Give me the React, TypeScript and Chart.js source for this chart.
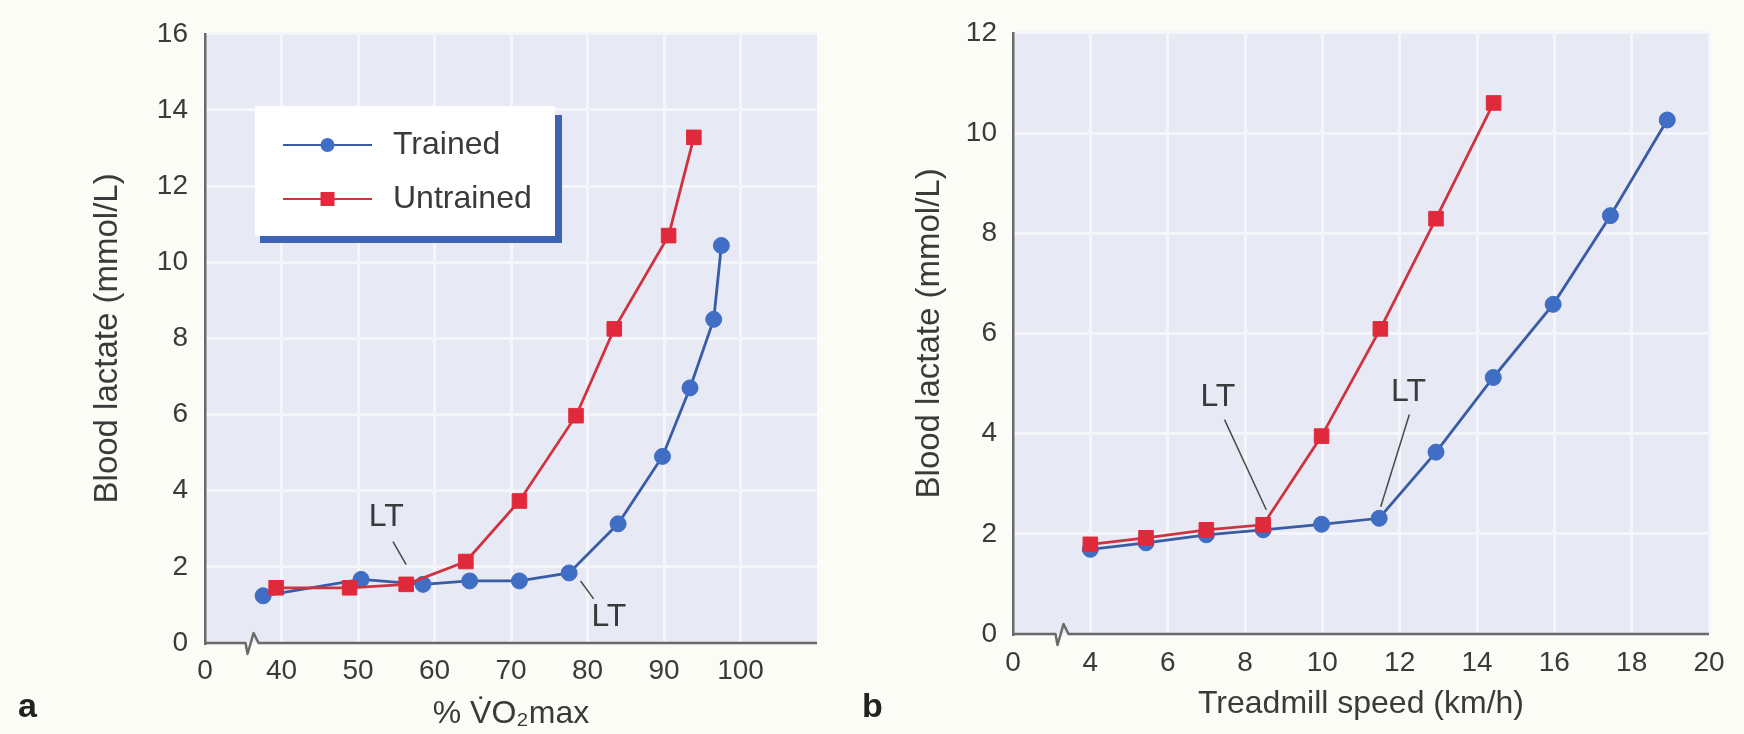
import React, { useEffect, useRef } from 'react';
import { Chart, registerables } from 'chart.js';

Chart.register(...registerables);

// ---------- Data: panel a (% VO2max) ----------
const aTrainedX = [37.6, 50.4, 58.5, 64.6, 71.1, 77.6, 84.0, 89.8, 93.4, 96.5, 97.5];
const aTrainedY = [1.24, 1.67, 1.54, 1.63, 1.63, 1.84, 3.13, 4.9, 6.7, 8.5, 10.44];
const aUntrainedX = [39.3, 48.9, 56.3, 64.1, 71.1, 78.5, 83.5, 90.6, 93.9];
const aUntrainedY = [1.45, 1.45, 1.54, 2.14, 3.73, 5.97, 8.25, 10.7, 13.28];
const aXTickValues = [30, 40, 50, 60, 70, 80, 90, 100, 110];
const aXTickLabels = ['0', '40', '50', '60', '70', '80', '90', '100', ''];
const aYTickValues = [0, 2, 4, 6, 8, 10, 12, 14, 16];

// ---------- Data: panel b (treadmill speed) ----------
const bTrainedX = [4.0, 5.44, 7.0, 8.47, 9.98, 11.47, 12.94, 14.42, 15.97, 17.45, 18.92];
const bTrainedY = [1.69, 1.82, 1.98, 2.08, 2.19, 2.31, 3.63, 5.12, 6.58, 8.35, 10.26];
const bUntrainedX = [4.0, 5.44, 7.0, 8.47, 9.98, 11.5, 12.94, 14.43];
const bUntrainedY = [1.79, 1.92, 2.08, 2.18, 3.95, 6.09, 8.29, 10.6];
const bXTickValues = [2, 4, 6, 8, 10, 12, 14, 16, 18, 20];
const bXTickLabels = ['0', '4', '6', '8', '10', '12', '14', '16', '18', '20'];
const bYTickValues = [0, 2, 4, 6, 8, 10, 12];

const seriesLabels = ['Trained', 'Untrained'];

// LT annotations (data coordinates)
const aAnnotations = [
  { text: 'LT', x: 53.7, y: 3.3, from: [54.57, 2.66], to: [56.3, 2.06] },
  { text: 'LT', x: 82.8, y: 0.67, from: [79.1, 1.63], to: [80.8, 1.16] },
];
const bAnnotations = [
  { text: 'LT', x: 7.3, y: 4.73, from: [7.47, 4.28], to: [8.55, 2.48] },
  { text: 'LT', x: 12.23, y: 4.83, from: [12.25, 4.38], to: [11.51, 2.54] },
];

// ---------- Styles ----------
const FONT = "'Liberation Sans', Arial, Helvetica, sans-serif";
const TEXT = '#3a3a3a';
const PAGE_BG = '#fcfcf7';
const PLOT_BG = '#e7e9f5';
const GRID = '#f5f6fc';
const AXIS = '#6a6a6a';
const LEADER = '#4a4a4a';
const BLUE_LINE = '#3a5ca4';
const BLUE_PT = '#3f6ec4';
const RED_LINE = '#cf3340';
const RED_PT = '#e02a3c';
const LEGEND_SHADOW = '#3d63b2';

function decor(cfg: any) {
  return {
    id: 'decor',
    beforeDraw(chart: any) {
      const { ctx, chartArea: a } = chart;
      ctx.save();
      ctx.fillStyle = PLOT_BG;
      ctx.fillRect(a.left, a.top, a.right - a.left, a.bottom - a.top);
      ctx.restore();
    },
    beforeDatasetsDraw(chart: any) {
      const { ctx, chartArea: a, scales } = chart;
      const bx = scales.x.getPixelForValue(cfg.breakValue);
      const y0 = a.bottom;
      ctx.save();
      ctx.strokeStyle = AXIS;
      ctx.lineWidth = 2.5;
      ctx.lineJoin = 'round';
      ctx.beginPath();
      ctx.moveTo(a.left - 1, y0);
      ctx.lineTo(bx, y0);
      ctx.lineTo(bx + 2, y0 + 11);
      ctx.lineTo(bx + 8, y0 - 10);
      ctx.lineTo(bx + 13, y0);
      ctx.lineTo(a.right, y0);
      ctx.stroke();
      ctx.restore();
    },
    afterDatasetsDraw(chart: any) {
      const { ctx, scales } = chart;
      const sx = (v: number) => scales.x.getPixelForValue(v);
      const sy = (v: number) => scales.y.getPixelForValue(v);
      ctx.save();
      for (const an of cfg.annotations) {
        ctx.strokeStyle = LEADER;
        ctx.lineWidth = 1.5;
        ctx.beginPath();
        ctx.moveTo(sx(an.from[0]), sy(an.from[1]));
        ctx.lineTo(sx(an.to[0]), sy(an.to[1]));
        ctx.stroke();
        ctx.fillStyle = TEXT;
        ctx.font = `32px ${FONT}`;
        ctx.textAlign = 'center';
        ctx.textBaseline = 'middle';
        ctx.fillText(an.text, sx(an.x), sy(an.y));
      }
      if (cfg.legend) {
        const L = cfg.legend;
        ctx.fillStyle = LEGEND_SHADOW;
        ctx.fillRect(L.right, L.top + 9, 7, L.bottom - L.top - 2);
        ctx.fillRect(L.left + 5, L.bottom, L.right - L.left + 2, 7);
        ctx.fillStyle = '#ffffff';
        ctx.fillRect(L.left, L.top, L.right - L.left, L.bottom - L.top);
        chart.data.datasets.forEach((ds: any, i: number) => {
          const y = L.rowY[i];
          ctx.strokeStyle = ds.borderColor;
          ctx.lineWidth = 2;
          ctx.beginPath();
          ctx.moveTo(L.lineX1, y);
          ctx.lineTo(L.lineX2, y);
          ctx.stroke();
          ctx.fillStyle = ds.pointBackgroundColor;
          const mx = (L.lineX1 + L.lineX2) / 2;
          if (ds.pointStyle === 'rect') {
            ctx.fillRect(mx - 7, y - 7, 14, 14);
          } else {
            ctx.beginPath();
            ctx.arc(mx, y, 7, 0, Math.PI * 2);
            ctx.fill();
          }
          ctx.fillStyle = TEXT;
          ctx.font = `32px ${FONT}`;
          ctx.textAlign = 'left';
          ctx.textBaseline = 'middle';
          ctx.fillText(ds.label, L.textX, y);
        });
      }
      ctx.fillStyle = '#222222';
      ctx.font = `bold 34px ${FONT}`;
      ctx.textAlign = 'left';
      ctx.textBaseline = 'alphabetic';
      ctx.fillText(cfg.panel.text, cfg.panel.x, cfg.panel.y);
      ctx.restore();
    },
  };
}

function buildConfig(p: any): any {
  const tickFont = { family: FONT, size: 28 };
  const titleFont = { family: FONT, size: 33, lineHeight: 1.2 };
  const xMin = p.xTickValues[0];
  const xMax = p.xTickValues[p.xTickValues.length - 1];
  return {
    type: 'line',
    data: {
      datasets: [
        {
          label: seriesLabels[0],
          data: p.trainedX.map((x: number, i: number) => ({ x, y: p.trainedY[i] })),
          borderColor: BLUE_LINE,
          backgroundColor: BLUE_PT,
          pointBackgroundColor: BLUE_PT,
          pointBorderColor: BLUE_PT,
          pointStyle: 'circle',
          pointRadius: 8,
          pointBorderWidth: 1,
          borderWidth: 2.8,
          tension: 0,
          order: 1,
        },
        {
          label: seriesLabels[1],
          data: p.untrainedX.map((x: number, i: number) => ({ x, y: p.untrainedY[i] })),
          borderColor: RED_LINE,
          backgroundColor: RED_PT,
          pointBackgroundColor: RED_PT,
          pointBorderColor: RED_PT,
          pointStyle: 'rect',
          pointRadius: 10.3,
          pointBorderWidth: 1,
          borderWidth: 2.8,
          tension: 0,
          order: 0,
        },
      ],
    },
    options: {
      responsive: false,
      animation: false,
      events: [],
      layout: { padding: p.padding },
      plugins: { legend: { display: false }, tooltip: { enabled: false } },
      scales: {
        x: {
          type: 'linear',
          min: xMin,
          max: xMax,
          afterBuildTicks: (s: any) => {
            s.ticks = p.xTickValues.map((v: number) => ({ value: v }));
          },
          afterFit: (s: any) => {
            s.height = p.xHeight;
          },
          ticks: {
            autoSkip: false,
            maxRotation: 0,
            minRotation: 0,
            padding: p.xTickPad,
            color: TEXT,
            font: tickFont,
            callback: (v: number) => {
              const i = p.xTickValues.indexOf(v);
              return i >= 0 ? p.xTickLabels[i] : '';
            },
          },
          grid: {
            drawTicks: false,
            lineWidth: 3,
            color: (c: any) =>
              c.tick && (c.tick.value === xMin || (p.hideLastGrid && c.tick.value === xMax))
                ? 'rgba(0,0,0,0)'
                : GRID,
          },
          border: { display: false },
          title: {
            display: true,
            text: p.xTitle,
            color: TEXT,
            font: { family: FONT, size: 32, lineHeight: 1.2 },
            padding: { top: 0, bottom: p.xTitlePad },
          },
        },
        y: {
          type: 'linear',
          min: p.yTickValues[0],
          max: p.yTickValues[p.yTickValues.length - 1],
          afterBuildTicks: (s: any) => {
            s.ticks = p.yTickValues.map((v: number) => ({ value: v }));
          },
          afterFit: (s: any) => {
            s.width = p.yWidth;
          },
          ticks: {
            autoSkip: false,
            padding: p.yTickPad,
            color: TEXT,
            font: tickFont,
            callback: (v: number) => String(v),
          },
          grid: { drawTicks: false, lineWidth: 3, color: GRID },
          border: { display: true, color: AXIS, width: 2.5 },
          title: {
            display: true,
            text: 'Blood lactate (mmol/L)',
            color: TEXT,
            font: titleFont,
            padding: { top: p.yTitlePad, bottom: 0 },
          },
        },
      },
    },
    plugins: [decor(p.decor)],
  };
}

const buildA = () =>
  buildConfig({
    trainedX: aTrainedX,
    trainedY: aTrainedY,
    untrainedX: aUntrainedX,
    untrainedY: aUntrainedY,
    xTickValues: aXTickValues,
    xTickLabels: aXTickLabels,
    yTickValues: aYTickValues,
    hideLastGrid: true,
    padding: { left: 0, top: 23, right: 1744 - 817, bottom: 0 },
    yWidth: 205,
    xHeight: 734 - 643,
    xTickPad: 11,
    yTickPad: 17,
    xTitle: '% V\u0307O\u2082max',
    xTitlePad: 1,
    yTitlePad: 88,
    decor: {
      breakValue: 35.3,
      annotations: aAnnotations,
      panel: { text: 'a', x: 18, y: 717 },
      legend: {
        left: 255,
        top: 106,
        right: 555,
        bottom: 236,
        rowY: [145, 199],
        lineX1: 283,
        lineX2: 372,
        textX: 393,
      },
    },
  });

const buildB = () =>
  buildConfig({
    trainedX: bTrainedX,
    trainedY: bTrainedY,
    untrainedX: bUntrainedX,
    untrainedY: bUntrainedY,
    xTickValues: bXTickValues,
    xTickLabels: bXTickLabels,
    yTickValues: bYTickValues,
    hideLastGrid: false,
    padding: { left: 880, top: 25, right: 1744 - 1709, bottom: 0 },
    yWidth: 1013 - 880,
    xHeight: 734 - 634,
    xTickPad: 12,
    yTickPad: 16,
    xTitle: 'Treadmill speed (km/h)',
    xTitlePad: 11,
    yTitlePad: 30,
    decor: {
      breakValue: 3.1,
      annotations: bAnnotations,
      panel: { text: 'b', x: 862, y: 717 },
      legend: null,
    },
  });

function ChartCanvas({ build }: { build: () => any }) {
  const ref = useRef<HTMLCanvasElement>(null);
  useEffect(() => {
    const chart = new Chart(ref.current as HTMLCanvasElement, build());
    return () => chart.destroy();
  }, [build]);
  return (
    <canvas
      ref={ref}
      width={1744}
      height={734}
      style={{ position: 'absolute', left: 0, top: 0, width: 1744, height: 734 }}
    />
  );
}

export default function App() {
  return (
    <div
      style={{
        position: 'absolute',
        left: 0,
        top: 0,
        width: 1744,
        height: 734,
        background: PAGE_BG,
        overflow: 'hidden',
      }}
    >
      <ChartCanvas build={buildA} />
      <ChartCanvas build={buildB} />
    </div>
  );
}
